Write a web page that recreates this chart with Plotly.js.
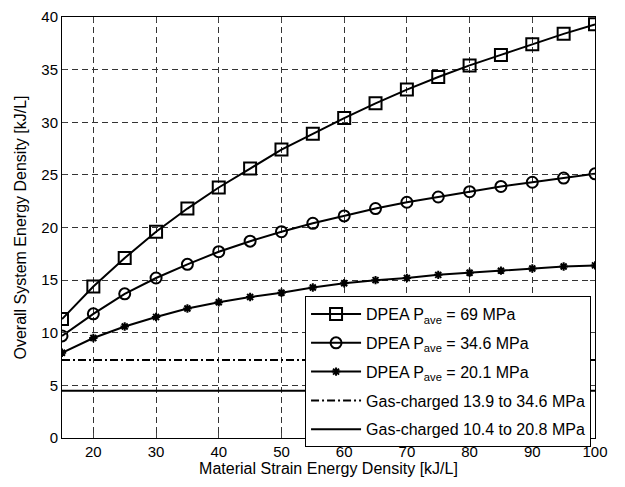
<!DOCTYPE html>
<html>
<head>
<meta charset="utf-8">
<script src="https://cdn.plot.ly/plotly-3.0.1.min.js"></script>
<style>html,body{margin:0;padding:0;background:#fff;}#chart{width:625px;height:487px;}</style>
</head>
<body>
<div id="chart"></div>
<script>
const strainDensity = [15,20,25,30,35,40,45,50,55,60,65,70,75,80,85,90,95,100];
const dpea69 = [11.3,14.4,17.1,19.6,21.8,23.8,25.6,27.4,28.9,30.4,31.8,33.1,34.3,35.4,36.4,37.4,38.4,39.3];
const dpea346 = [9.7,11.8,13.7,15.2,16.5,17.7,18.7,19.6,20.4,21.1,21.8,22.4,22.9,23.4,23.9,24.3,24.7,25.1];
const dpea201 = [8.1,9.5,10.6,11.5,12.3,12.9,13.4,13.8,14.3,14.7,15.0,15.2,15.5,15.7,15.9,16.1,16.3,16.4];
const gasRange = [15,100];
const gasHigh = [7.4,7.4];
const gasLow = [4.5,4.5];
const seriesNames = [
  "DPEA P<sub>ave</sub> = 69 MPa",
  "DPEA P<sub>ave</sub> = 34.6 MPa",
  "DPEA P<sub>ave</sub> = 20.1 MPa",
  "Gas-charged 13.9 to 34.6 MPa",
  "Gas-charged 10.4 to 20.8 MPa"
];
const xTicks = [20,30,40,50,60,70,80,90,100];

const traces = [
  {x: strainDensity, y: dpea69, name: seriesNames[0], legendgroup: "a", mode: "lines+markers",
   line: {color: "#000", width: 2},
   marker: {symbol: "square-open", size: 12, color: "#000", line: {width: 2, color: "#000"}}},
  {x: strainDensity, y: dpea346, name: seriesNames[1], legendgroup: "b", mode: "lines+markers",
   line: {color: "#000", width: 2},
   marker: {symbol: "circle-open", size: 11, color: "#000", line: {width: 2, color: "#000"}}},
  {x: strainDensity, y: dpea201, name: seriesNames[2], legendgroup: "c", mode: "lines+markers",
   line: {color: "#000", width: 2},
   marker: {symbol: "asterisk", size: 7, color: "#000", line: {width: 2, color: "#000"}}},
  {x: gasRange, y: gasHigh, name: seriesNames[3], legendgroup: "d", mode: "lines",
   line: {color: "#000", width: 2, dash: "8px,3px,2px,3px"}},
  {x: gasRange, y: gasLow, name: seriesNames[4], legendgroup: "e", mode: "lines",
   line: {color: "#000", width: 2}}
];

const layout = {
  width: 625, height: 487,
  paper_bgcolor: "#fff", plot_bgcolor: "#fff",
  margin: {l: 62, r: 30, t: 17, b: 49},
  font: {family: "Liberation Sans, Arial, sans-serif", size: 15, color: "#000"},
  showlegend: true,
  legend: {x: 0.456, y: 0.337, xanchor: "left", yanchor: "top",
    bgcolor: "#fff", bordercolor: "#000", borderwidth: 1,
    font: {size: 16}, tracegroupgap: 5, itemwidth: 50},
  xaxis: {range: [15, 100], tickvals: xTicks, ticks: "inside", ticklen: 5,
    showline: true, linecolor: "#000", linewidth: 1, mirror: "ticks",
    showgrid: true, gridcolor: "#333", griddash: "6px,4px", gridwidth: 1,
    zeroline: false, tickfont: {size: 15},
    title: {text: "Material Strain Energy Density [kJ/L]", font: {size: 16}, standoff: 2}},
  yaxis: {range: [0, 40], dtick: 5, ticks: "inside", ticklen: 5,
    showline: true, linecolor: "#000", linewidth: 1, mirror: "ticks",
    showgrid: true, gridcolor: "#333", griddash: "6px,4px", gridwidth: 1,
    zeroline: false, tickfont: {size: 15},
    title: {text: "Overall System Energy Density [kJ/L]", font: {size: 16}, standoff: 10}}
};

Plotly.newPlot("chart", traces, layout, {displayModeBar: false, staticPlot: true});
</script>
</body>
</html>
